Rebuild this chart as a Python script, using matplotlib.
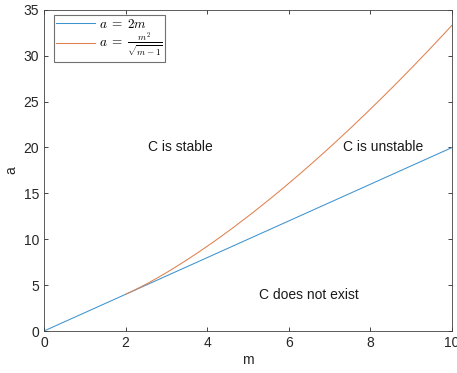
import numpy as np
import matplotlib
matplotlib.use("Agg")
import matplotlib.pyplot as plt

plt.rcParams["font.family"] = ["Liberation Sans", "DejaVu Sans"]
plt.rcParams["mathtext.fontset"] = "cm"

# boundary curves
m_lin = np.linspace(0, 10, 200)
m_curve = np.linspace(2, 10, 200)
a_lin = 2 * m_lin
a_curve = m_curve ** 2 / np.sqrt(m_curve - 1)

regions = ["C is stable", "C is unstable", "C does not exist"]
region_m = [3.35, 8.3, 6.5]
region_a = [20, 20, 3.9]

fig = plt.figure(figsize=(4.57, 3.73), dpi=100)
ax = fig.add_axes([0.0963, 0.1126, 0.893, 0.861])

ax.plot(m_lin, a_lin, color="#3d93cf", lw=0.75, label=r"$a\;=\;2m$")
ax.plot(m_curve, a_curve, color="#e0804f", lw=0.75,
        label=r"$a\;=\;\frac{m^2}{\sqrt{m-1}}$")

for txt, x, y in zip(regions, region_m, region_a):
    ax.text(x, y, txt, ha="center", va="center", fontsize=10, color="#1a1a1a")

ax.set_xlim(0, 10)
ax.set_ylim(0, 35)
ax.set_xticks(range(0, 11, 2))
ax.set_yticks(range(0, 36, 5))
ax.set_xlabel("m", fontsize=10, labelpad=2, color="#262626")
ax.set_ylabel("a", fontsize=10, labelpad=4, color="#262626")
ax.tick_params(direction="in", top=True, right=True, labelsize=10,
               colors="#262626", length=3, width=0.6)
for s in ax.spines.values():
    s.set_color("#404040")
    s.set_linewidth(0.6)

leg = ax.legend(loc="upper left", bbox_to_anchor=(0.024, 0.984),
                fontsize=9.5, fancybox=False, edgecolor="#707070",
                framealpha=1, handlelength=2.9, handletextpad=0.3,
                borderaxespad=0, borderpad=0.2, labelspacing=0.05)
leg.get_frame().set_linewidth(0.8)

fig.savefig("out.png", dpi=100)
